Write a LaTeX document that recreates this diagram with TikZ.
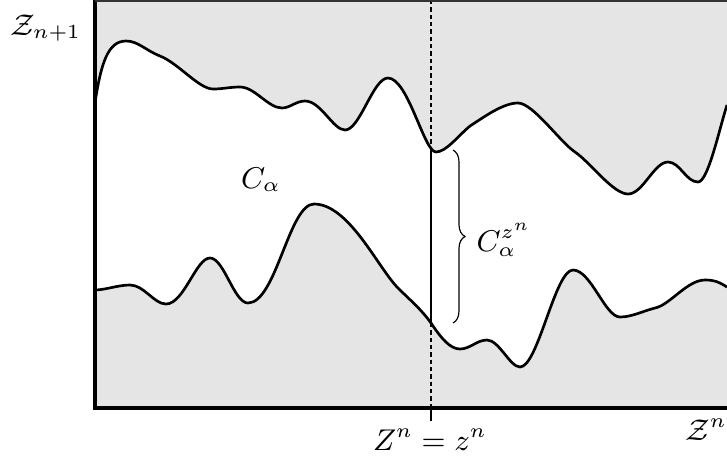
\documentclass[tikz,border=0pt]{standalone}
\usetikzlibrary{decorations.pathreplacing}
\begin{document}
\begin{tikzpicture}[x=0.3pt,y=-0.3pt,
  curve/.style={line width=0.8pt},
  axisline/.style={line width=1.1pt},
  vline/.style={line width=0.8pt},
  dashline/.style={line width=0.85pt,dash pattern=on 1.3pt off 0.9pt},
  lbl/.style={inner sep=0pt,font=\fontsize{9.2pt}{11pt}\selectfont}]
\useasboundingbox (0,0) rectangle (727,459);
\definecolor{bgfill}{gray}{0.898}
\def\upperpath{(95,103) .. controls +(6,-40) and +(-18,0) .. (126,41)
 .. controls +(12,0) and +(-15,-6) .. (160,56)
 .. controls +(18,7) and +(-14,0) .. (213,89)
 .. controls +(10,0) and +(-10,0) .. (240,87)
 .. controls +(15,0) and +(-14,0) .. (282,108)
 .. controls +(8,0) and +(-9,0) .. (305,101)
 .. controls +(16,0) and +(-12,0) .. (345,130)
 .. controls +(15,0) and +(-15,0) .. (388,78)
 .. controls +(20,0) and +(-12,0) .. (436,152)
 .. controls +(10,0) and +(-12,10) .. (470,126)
 .. controls +(14,-9) and +(-15,0) .. (518,103)
 .. controls +(15,0) and +(-15,-10) .. (575,152)
 .. controls +(15,10) and +(-15,0) .. (628,194)
 .. controls +(15,0) and +(-14,0) .. (668,162)
 .. controls +(12,0) and +(-12,0) .. (698,182)
 .. controls +(10,0) and +(-8,25) .. (727,105)}
\def\lowerpath{(95,290) .. controls +(10,0) and +(-12,0) .. (130,285)
 .. controls +(14,0) and +(-12,0) .. (166,304)
 .. controls +(18,0) and +(-14,0) .. (210,258)
 .. controls +(14,0) and +(-14,0) .. (248,303)
 .. controls +(28,0) and +(-25,0) .. (314,204)
 .. controls +(35,0) and +(-20,-20) .. (398,288)
 .. controls +(12,12) and +(-10,-14) .. (431,323)
 .. controls +(10,15) and +(-10,0) .. (460,349)
 .. controls +(10,0) and +(-10,0) .. (487,340)
 .. controls +(12,0) and +(-10,0) .. (520,367)
 .. controls +(18,0) and +(-18,0) .. (573,270)
 .. controls +(18,0) and +(-15,0) .. (620,317)
 .. controls +(12,0) and +(-12,3) .. (655,308)
 .. controls +(15,-3) and +(-18,0) .. (705,280)
 .. controls +(10,0) and +(-8,-5) .. (727,287)}
% gray regions
\fill[bgfill] \upperpath -- (727,0) -- (95,0) -- cycle;
\fill[bgfill] \lowerpath -- (727,408) -- (95,408) -- cycle;
% curves
\draw[curve] \upperpath;
\draw[curve] \lowerpath;
% vertical line
\coordinate (vtop) at (431,0);
\coordinate (uc) at (431,151);
\coordinate (lc) at (431,323);
\coordinate (vbot) at (431,408);
\coordinate (tick) at (431,421);
\draw[dashline] (vtop) -- (uc);
\draw[vline] (uc) -- (lc);
\draw[dashline] (lc) -- (vbot);
\draw[vline] (vbot) -- (tick);
% axes
\coordinate (o) at (95,408);
\coordinate (ytop) at (95,0);
\coordinate (xend) at (727,408);
\coordinate (tr) at (727,0);
\draw[axisline] (ytop) -- (o) -- (xend);
\draw[line width=0.9pt,black!80] (ytop) -- (tr);
% brace
\coordinate (b1) at (453,150);
\coordinate (b2) at (453,323);
\draw[line width=0.35pt,decorate,decoration={brace,amplitude=3.6pt}] (b1) -- (b2);
% labels
\node[lbl] (zn1) at (46,28) {$\mathcal{Z}_{n+1}$};
\node[lbl] (ca) at (261,180) {$C_\alpha$};
\node[lbl,anchor=west] (caz) at (476,240) {$C_\alpha^{z^n}$};
\node[lbl] (eq) at (430,440) {$Z^n = z^n$};
\node[lbl] (zn) at (706,430) {$\mathcal{Z}^n$};
\end{tikzpicture}
\end{document}
